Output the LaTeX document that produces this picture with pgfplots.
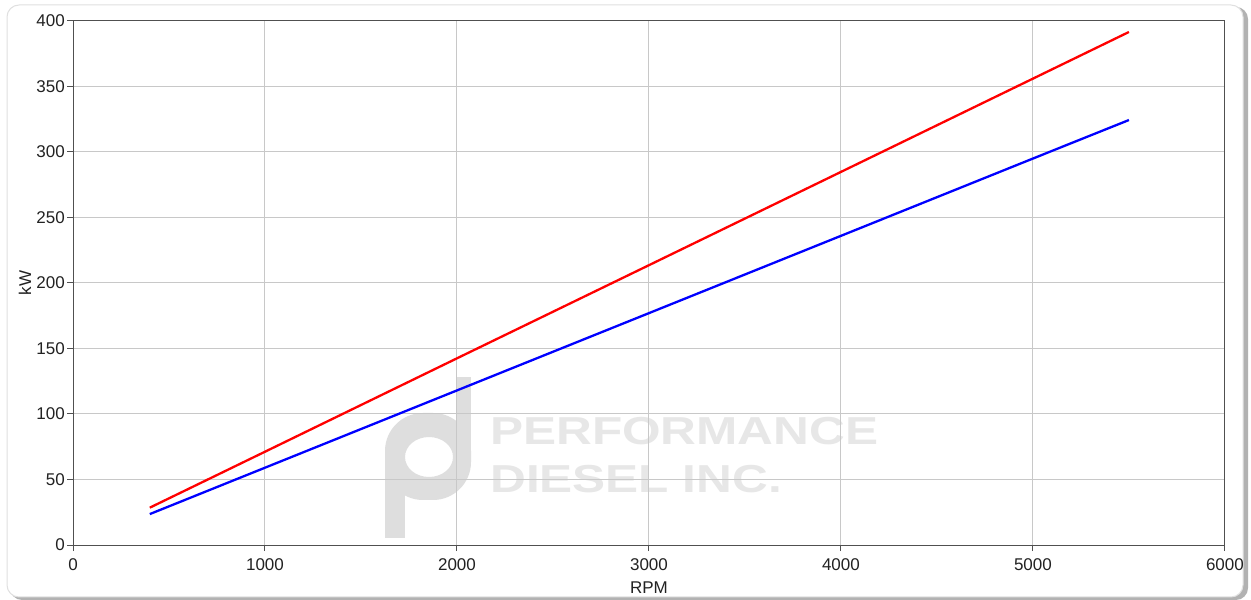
\documentclass[border=0pt]{standalone}
\usepackage{fontspec}
\setmainfont{Liberation Sans}
\usepackage{pgfplots}
\pgfplotsset{compat=1.18}
\definecolor{gridc}{HTML}{C8C8C8}
\definecolor{axc}{HTML}{505050}
\definecolor{wm}{HTML}{E7E7E7}
\definecolor{wmlogo}{HTML}{DEDEDE}
\definecolor{txt}{HTML}{222222}
\begin{document}
\begin{tikzpicture}
\begin{scope}[x=1pt,y=1pt]
\path[use as bounding box] (0,0) rectangle (1251,600);
% frame with shadow
\fill[black!30, rounded corners=12] (10,0) rectangle (1248,593);
\fill[white, draw=black!12, line width=1pt, rounded corners=12] (7,3) rectangle (1243,595);
% watermark
\fill[wmlogo, even odd rule, rounded corners=38] (385,100) rectangle (471,187) [sharp corners] (429,143) ellipse (24 and 20);
\fill[wmlogo] (456,143) rectangle (471,223);
\fill[wmlogo] (385,62) rectangle (405,143);
\node[anchor=base west, inner sep=0pt, text=wm, font=\fontsize{39}{39}\selectfont\bfseries, xscale=1.27] at (490,155) {PERFORMANCE};
\node[anchor=base west, inner sep=0pt, text=wm, font=\fontsize{39}{39}\selectfont\bfseries, xscale=1.27] at (490,107) {DIESEL INC.};
\end{scope}
\begin{axis}[
  at={(73pt,55pt)}, anchor=south west,
  scale only axis, width=1152pt, height=524pt,
  xmin=0, xmax=6000, ymin=0, ymax=400,
  xtick={0,1000,...,6000}, ytick={0,50,...,400},
  grid=major, grid style={gridc, line width=1pt},
  axis line style={axc, line width=1pt},
  tick style={axc, line width=1pt},
  tick align=outside, major tick length=6pt, tick pos=left,
  ticklabel style={font=\fontsize{17}{20}\selectfont, text=txt},
  /pgf/number format/assume math mode=true,
  /pgf/number format/1000 sep={},
  yticklabel style={anchor=east, inner sep=0pt, xshift=-2pt},
  xticklabel style={anchor=north, inner sep=0pt, yshift=-7pt},
  xlabel={RPM}, ylabel={kW},
  label style={font=\fontsize{17}{20}\selectfont, text=txt},
  xlabel style={at={(axis description cs:0.5,-0.082)}, anchor=center},
  ylabel style={at={(axis description cs:-0.0417,0.5)}, anchor=center},
]
\addplot[red, line width=2.3pt] coordinates {
(400,28.5) (1000,71.2) (2000,142.5) (3000,213.6) (4000,284.8) (5000,356.0) (5500,391.6)
};
\addplot[blue, line width=2.3pt] coordinates {
(400,23.6) (1000,59.0) (2000,118.0) (3000,177.0) (4000,236.0) (5000,295.0) (5500,324.4)
};
\end{axis}
\end{tikzpicture}
\end{document}
